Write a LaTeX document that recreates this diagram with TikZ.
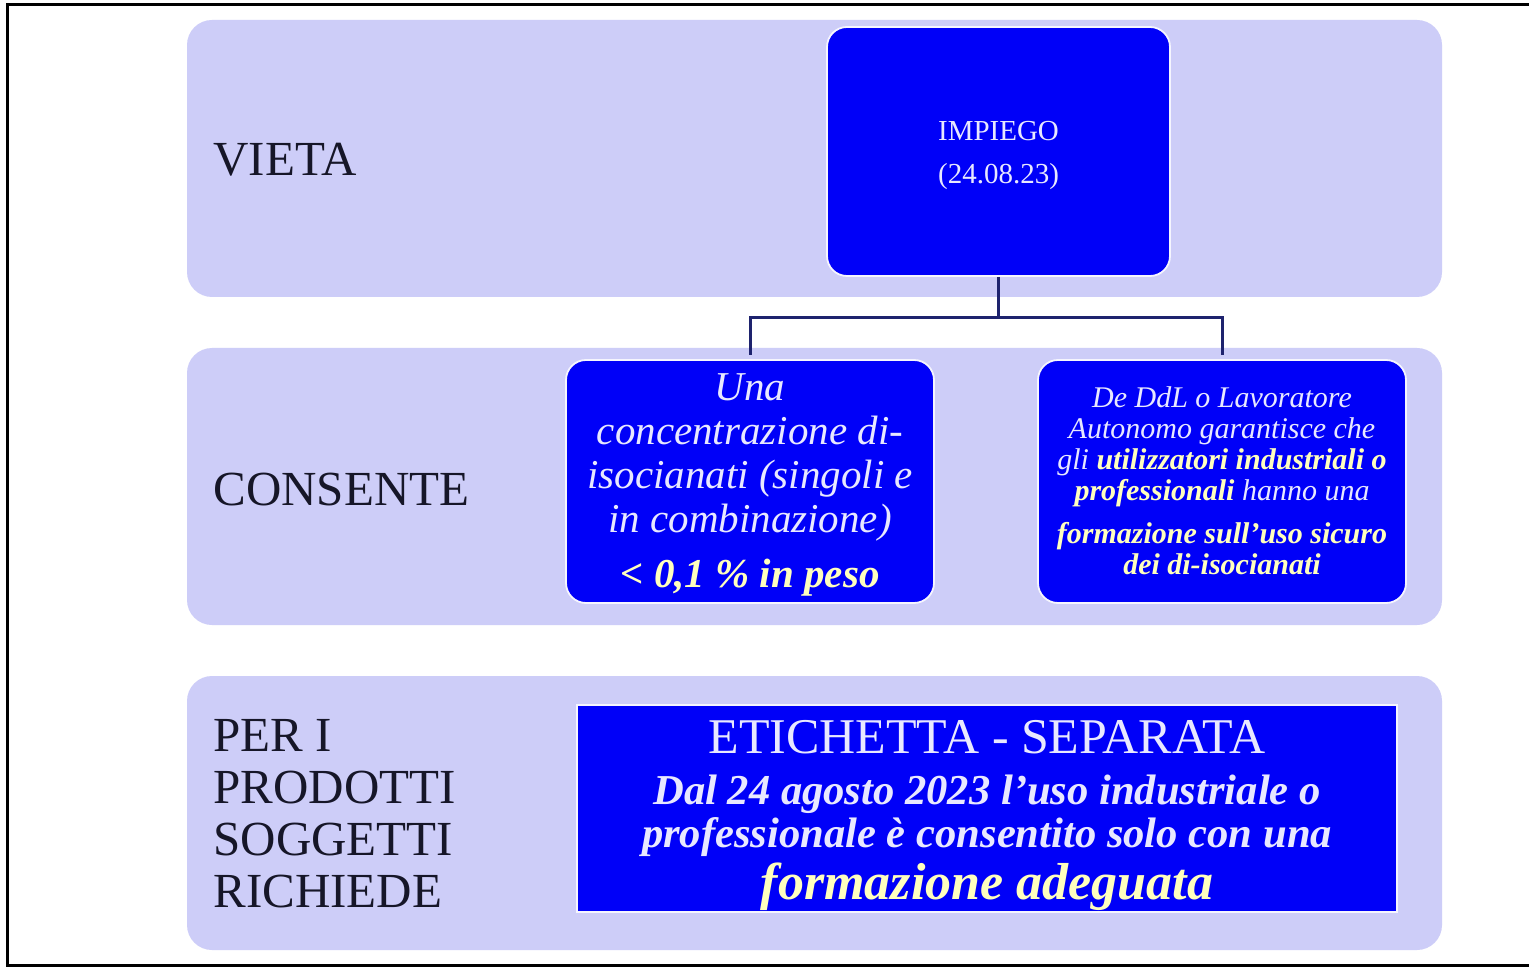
\documentclass[tikz,border=0pt]{standalone}
\usepackage{fontspec}
\setmainfont{Liberation Serif}
\definecolor{band}{RGB}{205,205,248}
\definecolor{boxblue}{RGB}{0,0,248}
\definecolor{lighttext}{RGB}{232,232,255}
\definecolor{yel}{RGB}{255,255,190}
\definecolor{labeltext}{RGB}{22,22,40}
\definecolor{conn}{RGB}{30,35,110}
\tikzset{
  bandbox/.style={fill=band, draw=none, rounded corners=12.5pt, inner sep=0pt},
  bluebox/.style={fill=boxblue, draw=white!80!band, line width=0.9pt, rounded corners=10pt,
                  inner sep=0pt},
  boxtext/.style={inner sep=0pt, text=lighttext, align=center},
  rowlabel/.style={inner sep=0pt, text=labeltext, font=\fontsize{24.5}{26}\selectfont, align=left},
  connector/.style={draw=conn, line width=1.5pt},
}
\begin{document}
\begin{tikzpicture}[x=0.5pt, y=-0.5pt]
\useasboundingbox (0,0) rectangle (1529,967);
\fill[white] (0,0) rectangle (1529,967);
\draw[black, line width=1.5pt] (1535,5) -- (7,5) -- (7,965) -- (1535,965);

% bands
\node[bandbox, minimum width=627.5pt, minimum height=138.5pt] (band1) at (814.5,158.5) {};
\node[bandbox, minimum width=627.5pt, minimum height=138.5pt] (band2) at (814.5,486.5) {};
\node[bandbox, minimum width=627.5pt, minimum height=137pt] (band3) at (814.5,813) {};

% row labels
\node[rowlabel, anchor=base west] (lvieta) at (213,176) {VIETA};
\node[rowlabel, anchor=base west] (lconsente) at (213,505) {CONSENTE};
\node[rowlabel, anchor=west] (lper) at (213,814) {PER I\\PRODOTTI\\SOGGETTI\\RICHIEDE};

% boxes
\node[bluebox, minimum width=171.5pt, minimum height=124.5pt] (imp) at (998.5,151.5) {};
\node[boxtext, font=\fontsize{14.5}{21.5}\selectfont] (imptext) at (998.5,155.5)
  {IMPIEGO\\(24.08.23)};

\node[bluebox, minimum width=184pt, minimum height=121.5pt] (left) at (750,481.5) {};
\node[boxtext, font=\fontsize{20.5}{22}\selectfont\itshape] (lefttext) at (750,485)
  {Una\\concentrazione di-\\isocianati (singoli e\\in combinazione)\\[5.5pt]
   {\bfseries\color{yel}< 0,1 \% in peso}};

\node[bluebox, minimum width=184pt, minimum height=121.5pt] (right) at (1222,481.5) {};
\node[boxtext, font=\fontsize{15}{15.5}\selectfont\itshape] (righttext) at (1222,481)
  {De DdL o Lavoratore\\Autonomo garantisce che\\
   gli {\bfseries\color{yel}utilizzatori industriali o}\\
   {\bfseries\color{yel}professionali} hanno una\\[6pt]
   {\bfseries\color{yel}formazione sull’uso sicuro}\\
   {\bfseries\color{yel}dei di-isocianati}};

\node[bluebox, rounded corners=0pt, minimum width=410pt, minimum height=103.5pt] (bottom) at (987,808.5) {};
\node[boxtext, font=\fontsize{21.3}{21.5}\selectfont] (bottomtext) at (987,815.5)
  {{\fontsize{25}{25}\selectfont ETICHETTA - SEPARATA}\\[4pt]
   {\bfseries\itshape Dal 24 agosto 2023 l’uso industriale o}\\
   {\bfseries\itshape professionale è consentito solo con una}\\[2.5pt]
   {\bfseries\itshape\color{yel}\fontsize{26}{26}\selectfont formazione adeguata}};

% connectors
\coordinate (junc) at (998.5,318);
\draw[connector] (imp.south) -- (junc);
\draw[connector] (junc) -| ([yshift=2pt]left.north);
\draw[connector] (junc) -| ([yshift=2pt]right.north);
\end{tikzpicture}
\end{document}
